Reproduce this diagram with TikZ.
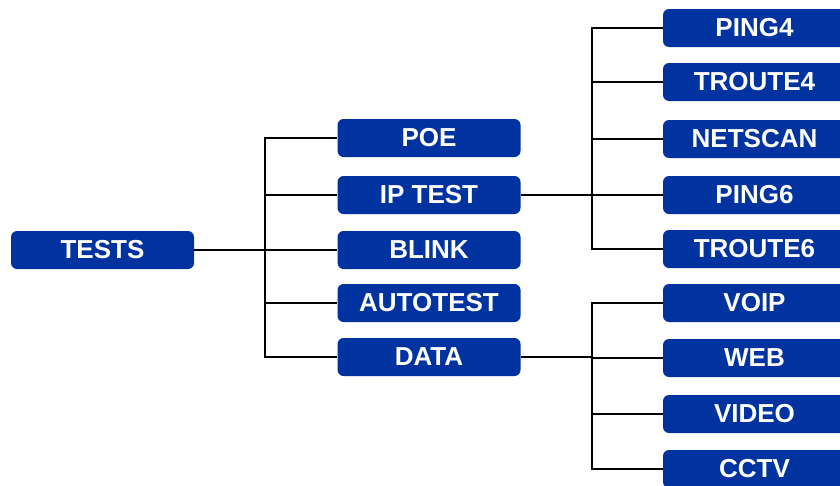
\documentclass[tikz,border=0pt]{standalone}
\usepackage{fontspec}
\setmainfont{Liberation Sans}
\definecolor{testblue}{HTML}{0033A0}
\begin{document}
\begin{tikzpicture}[x=1pt,y=-1pt,
	box/.style={fill=testblue,rounded corners=6pt,minimum width=183pt,minimum height=38pt,inner sep=0pt,text=white,font=\bfseries\fontsize{26}{26}\selectfont},
	link/.style={line width=2.2pt}]
\useasboundingbox (0,0) rectangle (840,485);
\node[box] (tests) at (102.5,250) {TESTS};
\foreach \y/\n/\t in {138/poe/POE,195/iptest/IP TEST,250/blink/BLINK,303/autotest/AUTOTEST,357/data/DATA}
	\node[box] (\n) at (429,\y) {\t};
\foreach \y/\n/\t in {28/ping4/PING4,82/troute4/TROUTE4,139/netscan/NETSCAN,195/ping6/PING6,249/troute6/TROUTE6}
	\node[box] (\n) at (754.5,\y) {\t};
\foreach \y/\n/\t in {303/voip/VOIP,358/web/WEB,414/video/VIDEO,469/cctv/CCTV}
	\node[box] (\n) at (754.5,\y) {\t};
\coordinate (tk) at (265,250);
\coordinate (ipk) at (592,195);
\coordinate (dk) at (592,357);
\draw[link] (tests.east) -- (tk);
\foreach \n in {poe,iptest,blink,autotest,data}
	\draw[link] (tk) |- (\n.west);
\draw[link] (iptest.east) -- (ipk);
\foreach \n in {ping4,troute4,netscan,ping6,troute6}
	\draw[link] (ipk) |- (\n.west);
\draw[link] (data.east) -- (dk);
\foreach \n in {voip,web,video,cctv}
	\draw[link] (dk) |- (\n.west);
\end{tikzpicture}
\end{document}
